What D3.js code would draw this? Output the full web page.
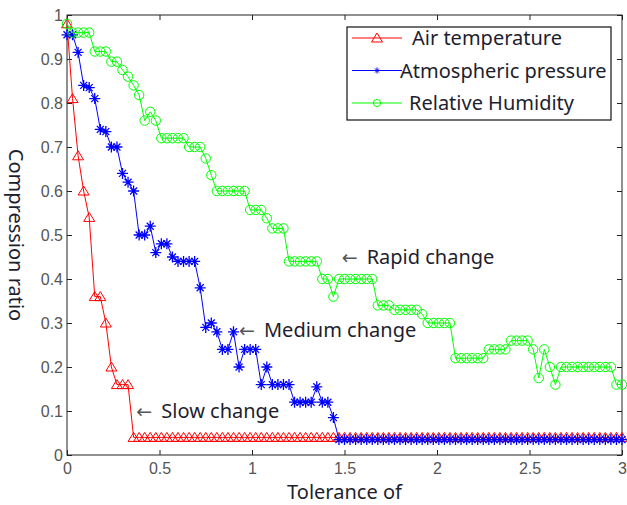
<!DOCTYPE html>
<html>
<head>
<meta charset="utf-8">
<script src="https://cdn.jsdelivr.net/npm/d3@7"></script>
<style>
    body { margin: 0; background: #fff; }
    svg text { font-family: "Noto Sans", "Open Sans", sans-serif; }
</style>
</head>
<body>
<svg id="drawing_region"></svg>
<script>
// tolerance grid step (x axis)
const tolerance_step = 0.03;

const series_names = ['Air temperature', 'Atmospheric pressure', 'Relative Humidity'];

const air_temperature = [
    0.98, 0.81, 0.68, 0.60, 0.54, 0.36, 0.36, 0.30, 0.20, 0.16,
    0.16, 0.16, 0.04, 0.04, 0.04, 0.04, 0.04, 0.04, 0.04, 0.04,
    0.04, 0.04, 0.04, 0.04, 0.04, 0.04, 0.04, 0.04, 0.04, 0.04,
    0.04, 0.04, 0.04, 0.04, 0.04, 0.04, 0.04, 0.04, 0.04, 0.04,
    0.04, 0.04, 0.04, 0.04, 0.04, 0.04, 0.04, 0.04, 0.04, 0.04,
    0.04, 0.04, 0.04, 0.04, 0.04, 0.04, 0.04, 0.04, 0.04, 0.04,
    0.04, 0.04, 0.04, 0.04, 0.04, 0.04, 0.04, 0.04, 0.04, 0.04,
    0.04, 0.04, 0.04, 0.04, 0.04, 0.04, 0.04, 0.04, 0.04, 0.04,
    0.04, 0.04, 0.04, 0.04, 0.04, 0.04, 0.04, 0.04, 0.04, 0.04,
    0.04, 0.04, 0.04, 0.04, 0.04, 0.04, 0.04, 0.04, 0.04, 0.04,
    0.04
];

const atmospheric_pressure = [
    0.955, 0.955, 0.915, 0.84, 0.835, 0.81, 0.74, 0.735, 0.70, 0.70,
    0.64, 0.62, 0.60, 0.50, 0.50, 0.52, 0.46, 0.48, 0.48, 0.45,
    0.44, 0.44, 0.44, 0.44, 0.38, 0.29, 0.30, 0.28, 0.24, 0.24,
    0.28, 0.20, 0.24, 0.24, 0.24, 0.16, 0.20, 0.16, 0.16, 0.16,
    0.16, 0.12, 0.12, 0.12, 0.12, 0.155, 0.12, 0.12, 0.085, 0.035,
    0.035, 0.035, 0.035, 0.035, 0.035, 0.035, 0.035, 0.035, 0.035, 0.035,
    0.035, 0.035, 0.035, 0.035, 0.035, 0.035, 0.035, 0.035, 0.035, 0.035,
    0.035, 0.035, 0.035, 0.035, 0.035, 0.035, 0.035, 0.035, 0.035, 0.035,
    0.035, 0.035, 0.035, 0.035, 0.035, 0.035, 0.035, 0.035, 0.035, 0.035,
    0.035, 0.035, 0.035, 0.035, 0.035, 0.035, 0.035, 0.035, 0.035, 0.035,
    0.035
];

const relative_humidity = [
    0.98, 0.96, 0.96, 0.96, 0.96, 0.917, 0.917, 0.917, 0.894, 0.894,
    0.875, 0.86, 0.84, 0.818, 0.76, 0.78, 0.76, 0.72, 0.72, 0.72,
    0.72, 0.72, 0.70, 0.70, 0.70, 0.674, 0.636, 0.60, 0.60, 0.60,
    0.60, 0.60, 0.60, 0.557, 0.557, 0.557, 0.538, 0.515, 0.515, 0.515,
    0.44, 0.44, 0.44, 0.44, 0.44, 0.44, 0.40, 0.40, 0.36, 0.40,
    0.40, 0.40, 0.40, 0.40, 0.40, 0.40, 0.34, 0.34, 0.34, 0.33,
    0.33, 0.33, 0.33, 0.33, 0.32, 0.30, 0.30, 0.30, 0.30, 0.30,
    0.22, 0.22, 0.22, 0.22, 0.22, 0.22, 0.24, 0.24, 0.24, 0.24,
    0.26, 0.26, 0.26, 0.26, 0.24, 0.175, 0.24, 0.20, 0.16, 0.20,
    0.20, 0.20, 0.20, 0.20, 0.20, 0.20, 0.20, 0.20, 0.20, 0.16,
    0.16
];

const x_ticks = [0, 0.5, 1, 1.5, 2, 2.5, 3];
const y_ticks = [0, 0.1, 0.2, 0.3, 0.4, 0.5, 0.6, 0.7, 0.8, 0.9, 1];

const note_labels = ['Rapid change', 'Medium change', 'Slow change'];

class LineChart {
    constructor (config, series) {
        this.config = config;
        this.series = series;
        this.init();
    }

    init() {
        let self = this;

        self.svg = d3.select(self.config.parent)
            .attr('width', self.config.width)
            .attr('height', self.config.height);

        self.inner_width = self.config.width - self.config.margin.left - self.config.margin.right;
        self.inner_height = self.config.height - self.config.margin.top - self.config.margin.bottom;

        self.chart = self.svg.append('g')
            .attr('transform', `translate(${self.config.margin.left},${self.config.margin.top})`);

        self.xscale = d3.scaleLinear()
            .domain([0, 3])
            .range([0, self.inner_width]);

        self.yscale = d3.scaleLinear()
            .domain([0, 1])
            .range([self.inner_height, 0]);

        self.line = d3.line()
            .x(d => self.xscale(d.x))
            .y(d => self.yscale(d.y));
    }

    render() {
        let self = this;
        const w = self.inner_width, h = self.inner_height;

        // axes, ticks pointing inward on all four sides
        const fmt = d3.format('~g');
        self.chart.append('g')
            .attr('transform', `translate(0,${h})`)
            .call(d3.axisBottom(self.xscale).tickValues(x_ticks).tickFormat(fmt)
                .tickSizeInner(-5).tickSizeOuter(0).tickPadding(8))
            .call(g => g.select('.domain').remove());
        self.chart.append('g')
            .call(d3.axisLeft(self.yscale).tickValues(y_ticks).tickFormat(fmt)
                .tickSizeInner(-5).tickSizeOuter(0).tickPadding(4))
            .call(g => g.select('.domain').remove());
        self.chart.append('g')
            .call(d3.axisTop(self.xscale).tickValues(x_ticks).tickFormat('')
                .tickSizeInner(-5).tickSizeOuter(0))
            .call(g => g.select('.domain').remove());
        self.chart.append('g')
            .attr('transform', `translate(${w},0)`)
            .call(d3.axisRight(self.yscale).tickValues(y_ticks).tickFormat('')
                .tickSizeInner(-5).tickSizeOuter(0))
            .call(g => g.select('.domain').remove());

        self.chart.selectAll('.tick line').attr('stroke', '#222');
        self.chart.selectAll('.tick text')
            .style('font-family', '"Liberation Sans", Arial, sans-serif')
            .style('font-size', '16px')
            .attr('fill', '#555');

        self.chart.append('rect')
            .attr('width', w).attr('height', h)
            .attr('fill', 'none')
            .attr('stroke', '#222')
            .attr('stroke-width', 1);

        // series
        self.series.forEach(s => {
            const pts = s.values.map((v, i) => ({x: i * tolerance_step, y: v}));
            self.chart.append('path')
                .datum(pts)
                .attr('d', self.line)
                .attr('fill', 'none')
                .attr('stroke', s.color)
                .attr('stroke-width', 1);
            self.chart.append('g')
                .selectAll('path')
                .data(pts)
                .join('path')
                .attr('transform', d => `translate(${self.xscale(d.x)},${self.yscale(d.y)})`)
                .attr('d', s.marker)
                .attr('fill', 'none')
                .attr('stroke', s.color)
                .attr('stroke-width', s.marker_width);
        });

        // annotations
        self.config.notes.forEach((n, i) => {
            const px = self.xscale(n.x), py = self.yscale(n.y);
            self.chart.append('text')
                .attr('x', px - 1).attr('y', py + 7)
                .style('font-family', '"DejaVu Sans", sans-serif')
                .style('font-size', '19px')
                .attr('fill', '#555')
                .text('\u2190');
            self.chart.append('text')
                .attr('x', px + 24).attr('y', py + 7)
                .style('font-size', '20px')
                .attr('fill', '#1e1e2e')
                .text(note_labels[i]);
        });

        // legend
        const lg = self.config.legend;
        const legend = self.svg.append('g');
        legend.append('rect')
            .attr('x', lg.x).attr('y', lg.y)
            .attr('width', lg.width).attr('height', lg.height)
            .attr('fill', '#fff')
            .attr('stroke', '#111')
            .attr('stroke-width', 1.2);
        self.series.forEach((s, i) => {
            const ry = lg.y + lg.row0 + i * lg.row_step;
            legend.append('line')
                .attr('x1', lg.x + 5).attr('x2', lg.x + 55)
                .attr('y1', ry).attr('y2', ry)
                .attr('stroke', s.color);
            legend.append('path')
                .attr('transform', `translate(${lg.x + 30},${ry})`)
                .attr('d', s.legend_marker)
                .attr('fill', 'none')
                .attr('stroke', s.color);
            legend.append('text')
                .attr('x', lg.x + lg.text_dx[i]).attr('y', ry + 7)
                .style('font-size', '20px')
                .attr('fill', '#1e1e2e')
                .text(series_names[i]);
        });

        // axis titles
        self.svg.append('text')
            .attr('x', self.config.margin.left + w / 2)
            .attr('y', self.config.height - 6)
            .attr('text-anchor', 'middle')
            .style('font-size', '20px')
            .attr('fill', '#1e1e2e')
            .text('Tolerance of');
        self.svg.append('text')
            .attr('transform', `translate(9,${self.config.margin.top + h / 2}) rotate(90)`)
            .attr('text-anchor', 'middle')
            .style('font-size', '20px')
            .attr('fill', '#1e1e2e')
            .text('Compression ratio');
    }
}

const tri = 'M0,-5L5.5,4L-5.5,4Z';
const star = 'M-5.5,0H5.5M0,-5.5V5.5M-3.5,-3.5L3.5,3.5M-3.5,3.5L3.5,-3.5';
const circ = d3.symbol(d3.symbolCircle, 70)();

const series = [
    {values: air_temperature, color: '#ff0000', marker: tri, marker_width: 1,
        legend_marker: tri},
    {values: atmospheric_pressure, color: '#0000ff', marker: star, marker_width: 1.3,
        legend_marker: 'M-3,0H3M0,-3V3M-2,-2L2,2M-2,2L2,-2'},
    {values: relative_humidity, color: '#00ff00', marker: circ, marker_width: 1,
        legend_marker: d3.symbol(d3.symbolCircle, 40)()}
];

const config = {
    parent: '#drawing_region',
    width: 627,
    height: 505,
    margin: {top: 15, right: 5, bottom: 50, left: 67},
    legend: {x: 347, y: 27, width: 264, height: 93, row0: 11, row_step: 32.5, text_dx: [65, 53, 62]},
    notes: [
        {x: 1.49, y: 0.45},
        {x: 0.935, y: 0.285},
        {x: 0.38, y: 0.10}
    ]
};

const chart = new LineChart(config, series);
chart.render();
</script>
</body>
</html>
